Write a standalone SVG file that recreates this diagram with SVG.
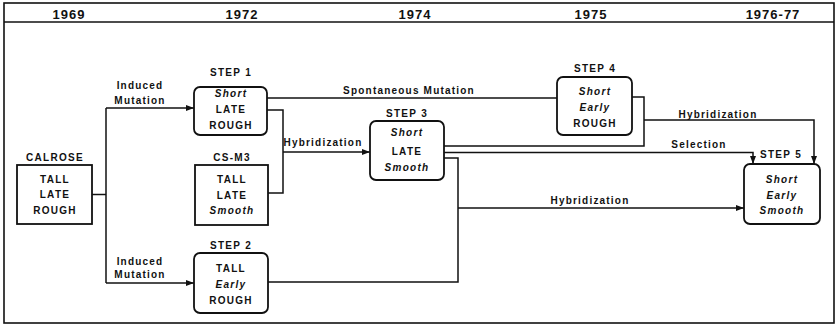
<svg xmlns="http://www.w3.org/2000/svg" width="837" height="327" viewBox="0 0 837 327">
<style>
text{font-family:"Liberation Sans",Arial,sans-serif;font-weight:bold;fill:#111;text-anchor:middle}
.yr{font-size:13px;letter-spacing:1px}
.t{font-size:10px;letter-spacing:1.3px}
.i{font-style:italic}
.lb{font-size:10px;letter-spacing:1.2px}
.box{fill:#fff;stroke:#111;stroke-width:1.8}
.ln{fill:none;stroke:#111;stroke-width:1.5}
.fr{fill:none;stroke:#111;stroke-width:1.6}
</style>
<defs>
<marker id="ah" markerUnits="userSpaceOnUse" markerWidth="9" markerHeight="7" refX="8" refY="3" orient="auto">
<path d="M0,0 L8,3 L0,6 z" fill="#111"/>
</marker>
</defs>
<rect width="837" height="327" fill="#fff"/>
<g id="frame">
<rect class="fr" x="4" y="3" width="830" height="320"/>
<line class="fr" x1="4" y1="22" x2="834" y2="22"/>
<text class="yr" x="69" y="18.5">1969</text>
<text class="yr" x="242" y="18.5">1972</text>
<text class="yr" x="415" y="18.5">1974</text>
<text class="yr" x="591" y="18.5">1975</text>
<text class="yr" x="773" y="18.5">1976-77</text>
</g>
<g id="connectors">
<path class="ln" d="M92,194.5 H106"/>
<path class="ln" d="M106,108 V283"/>
<path class="ln" d="M106,108 H194" marker-end="url(#ah)"/>
<path class="ln" d="M106,283 H194" marker-end="url(#ah)"/>
<path class="ln" d="M267,98 H557"/>
<path class="ln" d="M267,110 H283 V193 H268"/>
<path class="ln" d="M283,152 H370" marker-end="url(#ah)"/>
<path class="ln" d="M444,146 H644 V97 H632"/>
<path class="ln" d="M644,120 H814 V164" marker-end="url(#ah)"/>
<path class="ln" d="M444,152.5 H753 V164" marker-end="url(#ah)"/>
<path class="ln" d="M444,158 H458 V282 H268"/>
<path class="ln" d="M458,208 H744" marker-end="url(#ah)"/>
<text class="lb" x="140" y="88.5">Induced</text>
<text class="lb" x="140" y="103.5">Mutation</text>
<text class="lb" x="140" y="264.5">Induced</text>
<text class="lb" x="140" y="277.5">Mutation</text>
<text class="lb" x="409" y="93.5">Spontaneous Mutation</text>
<text class="lb" x="323" y="145.5">Hybridization</text>
<text class="lb" x="718" y="117.5">Hybridization</text>
<text class="lb" x="699" y="147.5">Selection</text>
<text class="lb" x="590" y="203.5">Hybridization</text>
</g>
<g id="calrose">
<text class="t" x="55" y="161">CALROSE</text>
<rect class="box" x="17" y="165" width="75" height="59"/>
<text class="t" x="55" y="182.5">TALL</text>
<text class="t" x="55" y="198">LATE</text>
<text class="t" x="55" y="214">ROUGH</text>
</g>
<g id="step1">
<text class="t" x="231" y="75.5">STEP 1</text>
<rect class="box" x="194" y="87" width="73" height="48" rx="6"/>
<text class="t i" x="231" y="96.5">Short</text>
<text class="t" x="231" y="112.5">LATE</text>
<text class="t" x="231" y="129">ROUGH</text>
</g>
<g id="csm3">
<text class="t" x="232" y="161">CS-M3</text>
<rect class="box" x="195" y="165" width="73" height="60"/>
<text class="t" x="232" y="182.5">TALL</text>
<text class="t" x="232" y="198.5">LATE</text>
<text class="t i" x="232" y="214">Smooth</text>
</g>
<g id="step2">
<text class="t" x="231" y="248.5">STEP 2</text>
<rect class="box" x="194" y="253" width="74" height="60" rx="6"/>
<text class="t" x="231" y="271.5">TALL</text>
<text class="t i" x="231" y="287.5">Early</text>
<text class="t" x="231" y="304">ROUGH</text>
</g>
<g id="step3">
<text class="t" x="407" y="116.5">STEP 3</text>
<rect class="box" x="370" y="121" width="74" height="59" rx="6"/>
<text class="t i" x="407" y="135.5">Short</text>
<text class="t" x="407" y="154.5">LATE</text>
<text class="t i" x="407" y="170.5">Smooth</text>
</g>
<g id="step4">
<text class="t" x="595" y="72">STEP 4</text>
<rect class="box" x="557" y="77" width="75" height="58" rx="6"/>
<text class="t i" x="595" y="94.5">Short</text>
<text class="t i" x="595" y="110.5">Early</text>
<text class="t" x="595" y="126.5">ROUGH</text>
</g>
<g id="step5">
<text class="t" x="781" y="157.5">STEP 5</text>
<rect class="box" x="744" y="164" width="76" height="60" rx="6"/>
<text class="t i" x="782" y="182.5">Short</text>
<text class="t i" x="782" y="198.5">Early</text>
<text class="t i" x="782" y="213.5">Smooth</text>
</g>
</svg>
